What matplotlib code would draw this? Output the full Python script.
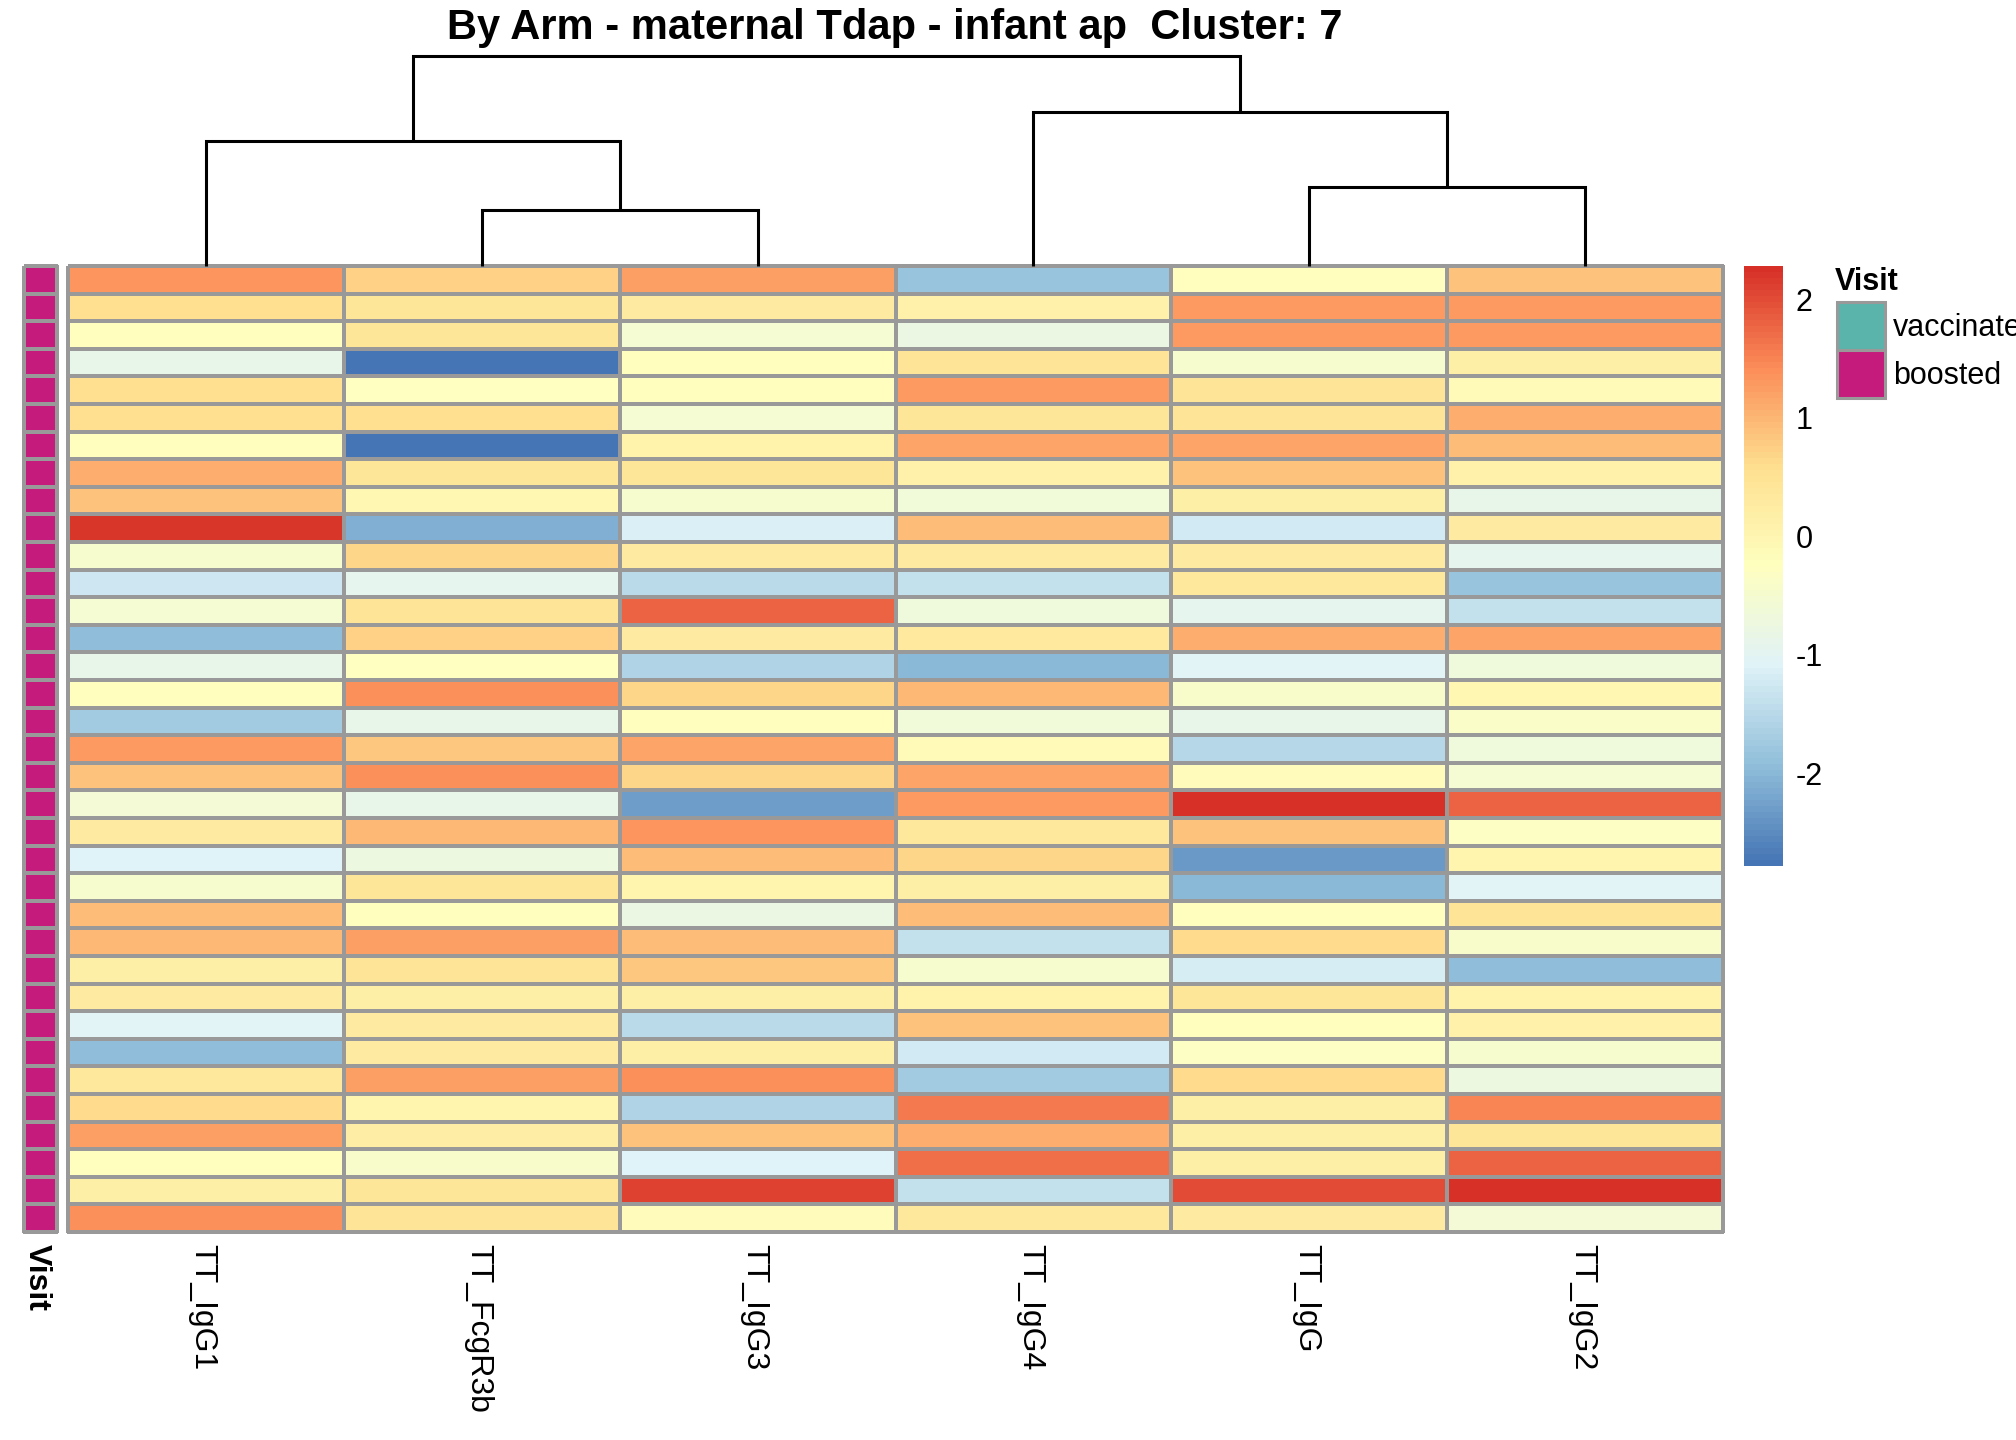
import numpy as np
import matplotlib
matplotlib.use("Agg")
import matplotlib.pyplot as plt
from matplotlib.colors import LinearSegmentedColormap, ListedColormap
from matplotlib.patches import Rectangle
import matplotlib.transforms as mtransforms

plt.rcParams['font.family'] = ['Liberation Sans', 'DejaVu Sans']

# ---------------- data ----------------
title = "By Arm - maternal Tdap - infant ap  Cluster: 7"
columns = ["TT_IgG1", "TT_FcgR3b", "TT_IgG3", "TT_IgG4", "TT_IgG", "TT_IgG2"]

TT_IgG1 = [1.35, 0.6, -0.2, -0.9, 0.6, 0.6, -0.25, 1.1, 0.9, 2.2, -0.5, -1.3,
           -0.55, -1.95, -0.9, -0.22, -1.75, 1.3, 0.9, -0.6, 0.3, -1.1, -0.5, 0.95,
           1.0, 0.18, 0.3, -1.05, -1.95, 0.38, 0.65, 1.22, -0.22, 0.2, 1.4]
TT_FcgR3b = [0.75, 0.45, 0.45, -2.78, -0.3, 0.6, -2.75, 0.42, 0.0, -2.1, 0.7, -0.95,
             0.5, 0.75, -0.3, 1.4, -0.9, 0.85, 1.4, -0.88, 1.0, -0.75, 0.42, -0.22,
             1.22, 0.5, 0.2, 0.3, 0.3, 1.22, 0.05, 0.25, -0.45, 0.42, 0.5]
TT_IgG3 = [1.25, 0.3, -0.55, -0.22, -0.2, -0.55, 0.1, 0.42, -0.5, -1.15, 0.3, -1.5,
           1.8, 0.28, -1.6, 0.7, -0.22, 1.18, 0.7, -2.3, 1.35, 0.92, 0.05, -0.8,
           0.95, 0.85, 0.2, -1.5, 0.18, 1.4, -1.58, 0.88, -1.08, 2.1, -0.15]
TT_IgG4 = [-1.85, 0.15, -0.8, 0.5, 1.3, 0.42, 1.2, 0.15, -0.65, 0.95, 0.3, -1.4,
           -0.7, 0.35, -2.0, 1.0, -0.65, -0.1, 1.2, 1.3, 0.38, 0.7, 0.2, 0.92,
           -1.4, -0.5, 0.1, 0.88, -1.25, -1.75, 1.6, 1.08, 1.68, -1.4, 0.38]
TT_IgG = [-0.2, 1.3, 1.3, -0.5, 0.5, 0.5, 1.2, 0.9, 0.2, -1.25, 0.3, 0.4,
          -0.95, 1.1, -1.05, -0.45, -0.9, -1.55, -0.18, 2.27, 0.9, -2.35, -2.0, -0.25,
          0.65, -1.2, 0.42, -0.22, -0.33, 0.65, 0.2, 0.2, 0.18, 2.0, 0.3]
TT_IgG2 = [0.9, 1.28, 1.3, 0.2, -0.1, 1.1, 0.95, 0.15, -0.9, 0.3, -0.95, -1.85,
           -1.4, 1.18, -0.7, 0.0, -0.38, -0.7, -0.52, 1.78, -0.33, 0.05, -1.05, 0.5,
           -0.45, -1.95, 0.1, 0.15, -0.5, -0.75, 1.52, 0.42, 1.78, 2.28, -0.6]

visit = ["boosted"] * 35
visit_levels = ["vaccinated", "boosted"]
visit_colors = ["#5AB4AC", "#C51B7D"]

# column dendrogram (leaf indices in displayed order, merge height)
linkage = [[1, 2, 2.67], [4, 5, 3.78], [0, 6, 5.94], [3, 7, 7.33], [8, 9, 10.0]]

# ---------------- drawing ----------------
W, H = 2016, 1440
fig = plt.figure(figsize=(W / 100, H / 100), dpi=100)
fig.patch.set_facecolor("white")

def ax_px(x0, y0, x1, y1):
    return fig.add_axes([x0 / W, 1 - y1 / H, (x1 - x0) / W, (y1 - y0) / H])

data = np.array([TT_IgG1, TT_FcgR3b, TT_IgG3, TT_IgG4, TT_IgG, TT_IgG2]).T
nrow, ncol = data.shape
vmin, vmax = data.min(), data.max()
anchors = ["#4575B4", "#91BFDB", "#E0F3F8", "#FFFFBF", "#FEE090", "#FC8D59", "#D73027"]
cmap = LinearSegmentedColormap.from_list("rdylbu_r", anchors, N=100)

border = "#999999"
hx0, hy0, hx1, hy1 = 68, 266, 1723, 1232

# heatmap
ax = ax_px(hx0, hy0, hx1, hy1)
mesh = ax.pcolormesh(np.arange(ncol + 1), np.arange(nrow + 1), data, cmap=cmap,
                     vmin=vmin, vmax=vmax, edgecolors=border, linewidth=1.6)
mesh.set_clip_on(False)
ax.set_xlim(0, ncol)
ax.set_ylim(nrow, 0)
ax.axis("off")

# column labels
trans = mtransforms.blended_transform_factory(ax.transData, ax.transAxes)
for j, lab in enumerate(columns):
    ax.text(j + 0.5 - 0.012, -0.012, lab, transform=trans, rotation=270, ha="center",
            va="top", fontsize=23)

# annotation strip
axv = ax_px(24, hy0, 57, hy1)
vcodes = np.array([[visit_levels.index(v)] for v in visit])
axv.pcolormesh(np.arange(2), np.arange(nrow + 1), vcodes,
               cmap=ListedColormap(visit_colors), vmin=-0.5, vmax=1.5,
               edgecolors=border, linewidth=1.6).set_clip_on(False)
axv.set_xlim(0, 1)
axv.set_ylim(nrow, 0)
axv.axis("off")
axv.text(0.4, -0.012, "Visit", transform=axv.transAxes, rotation=270,
         ha="center", va="top", fontsize=23, fontweight="bold")

# dendrogram
axd = ax_px(hx0, 56, hx1, hy0)
pos = {i: (i + 0.5, 0.0) for i in range(ncol)}
for k, (a, b, h) in enumerate(linkage):
    xa, ya = pos[a]
    xb, yb = pos[b]
    axd.plot([xa, xa, xb, xb], [ya, h, h, yb], color="black", lw=2.2,
             solid_capstyle="butt", solid_joinstyle="miter")
    pos[ncol + k] = ((xa + xb) / 2, h)
axd.set_xlim(0, ncol)
axd.set_ylim(0, max(l[2] for l in linkage))
axd.axis("off")
for l in axd.lines:
    l.set_clip_on(False)

# colorbar
axc = ax_px(1744, hy0, 1782, 866)
grad = np.linspace(vmax, vmin, 100).reshape(-1, 1)
axc.imshow(grad, cmap=cmap, vmin=vmin, vmax=vmax, aspect="auto",
           extent=[0, 1, vmin, vmax], interpolation="nearest")
axc.set_xlim(0, 1)
axc.set_ylim(vmin, vmax)
for s in axc.spines.values():
    s.set_visible(False)
axc.set_xticks([])
axc.yaxis.tick_right()
axc.set_yticks([-2, -1, 0, 1, 2])
axc.set_yticklabels(["-2", "-1", "0", "1", "2"])
axc.tick_params(axis="y", length=0, pad=10, labelsize=22)

# legend
axo = fig.add_axes([0, 0, 1, 1])
axo.set_xlim(0, W)
axo.set_ylim(H, 0)
axo.axis("off")
axo.patch.set_alpha(0)
axo.text(1835, 282, "Visit", fontsize=22, fontweight="bold", ha="left", va="center")
for i, (lev, col) in enumerate(zip(visit_levels, visit_colors)):
    y0 = 302 + i * 48
    axo.add_patch(Rectangle((1837, y0), 48, 48, facecolor=col, edgecolor=border, lw=2.2))
    axo.text(1893, y0 + 26, lev, fontsize=22, ha="left", va="center")

# title
fig.text(895 / W, 1 - 28 / H, title, ha="center", va="center", fontsize=30,
         fontweight="bold")

fig.savefig("out.png", dpi=100)
